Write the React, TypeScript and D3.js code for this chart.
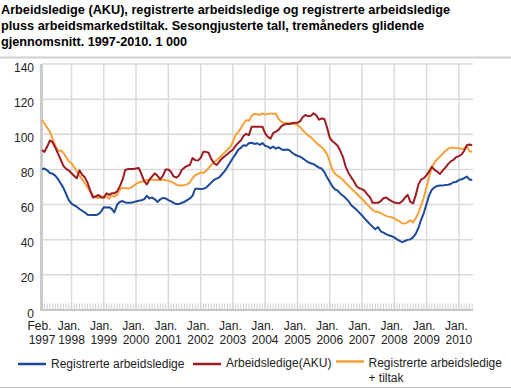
import React from "react";
import * as d3 from "d3";

// monthly values, Feb 1997 - Jun 2010 (1 000 persons)
const startMonth = new Date(1997, 1, 1);

const registrerte = [
  80, 80.5, 79.5, 78, 77.5, 76.5, 74.5, 72, 69.5, 66, 62.5,
  60.5, 59.5, 58.8, 57.5, 56.5, 55.5, 54.2, 54, 54, 54, 54.5, 56,
  58.5, 58.3, 58.5, 57.5, 55.5, 60, 61.5, 62, 61.2, 61, 61, 61.3,
  61.8, 62.2, 62.5, 63, 65, 63.5, 64, 63, 61.5, 63, 63.8, 63.5,
  62.5, 61.8, 61, 60.3, 60.3, 61, 61.5, 62.5, 63.5, 65, 69, 69,
  68.8, 69, 69.5, 71, 72.5, 74, 74.8, 75.5, 77.4, 79, 81.5, 84,
  86.5, 88.7, 91, 92.4, 93.8, 93.5, 94.9, 95.2, 94.5, 94.9, 94, 95,
  93.5, 93, 92, 93, 91.8, 92.6, 91.5, 91, 91.3, 91, 89.5, 88.5,
  87.7, 87.2, 86.3, 85.2, 84.2, 83.5, 83, 82, 81, 80.5, 78.5, 75.5,
  73, 70.3, 68.7, 67.9, 66.2, 65, 63.7, 62, 59.6, 58.4, 57, 55.4,
  53.8, 52, 50.5, 48.9, 47.4, 45.9, 47.2, 44.8, 44, 43.2, 42.5, 42,
  41.3, 40.2, 39.3, 38.6, 39.3, 39.9, 40.2, 41.3, 43.5, 46.8, 51.5, 55.3,
  60.5, 65.5, 68.4, 69.8, 70.6, 70.9, 70.8, 71.2, 71.3, 71.7, 72.7, 72.9,
  73.9, 74.4, 75, 75.9, 74.3, 74,
];

const aku = [
  91, 90, 93, 96.5, 95.5, 92.5, 89, 85.5, 82, 80.3, 79.5,
  77.8, 76.3, 75, 79.5, 77, 75.5, 72.5, 68, 64, 64.5, 65.5, 64,
  64, 66.4, 65.5, 66.4, 66.4, 67.5, 70.3, 74, 79.7, 80.2, 80.2, 80.2,
  80.5, 80.8, 77.5, 73.5, 71.5, 74, 76, 77.8, 76.3, 74.4, 76.5, 80,
  80, 78.5, 76, 75.3, 76.5, 79.7, 81, 82, 82.5, 86.5, 85.3, 85,
  86.5, 90, 90, 89.5, 86, 83.5, 82.5, 84.5, 86.3, 87.5, 88.8, 90.1,
  91.2, 93.5, 95, 96.5, 99, 100.3, 99.5, 104.3, 104.3, 104.3, 104.3, 104.3,
  100.5, 98.5, 97.5, 100.6, 101.5, 102.5, 104.5, 105.5, 105.9, 105.9, 106.3, 106.5,
  106.5, 107.5, 109.7, 111, 110.2, 110.5, 112, 110.8, 108.3, 109, 108.7, 104,
  98, 96, 94.9, 93.5, 90.5, 86.8, 81.5, 78, 75.5, 73.3, 70.4, 69.3,
  68.8, 67.8, 65.8, 64.2, 61, 61, 61, 62, 63.6, 64, 63, 62,
  61.2, 60.9, 60.7, 62, 64, 65.5, 61.5, 60.7, 65.5, 71.5, 74.3, 75,
  76.8, 79, 81.5, 79.7, 78.8, 77.4, 79.3, 81, 83, 84.6, 85.5, 87,
  87.6, 88.5, 90.5, 93.8, 94.2, 93.8,
];

const registrerteTiltak = [
  108.1, 106, 103.8, 101.5, 97.5, 93.5, 90.5, 90.8, 89.5, 87, 84.7,
  83.5, 81.2, 79, 76.5, 74.5, 72.1, 69.8, 67.5, 65.3, 64.3, 63.6, 65,
  63.8, 64.6, 63.3, 65.2, 64.5, 65.5, 68.5, 69.5, 69.5, 69.2, 69.5, 70.6,
  71.8, 72.6, 73, 73.3, 74, 74.4, 74.2, 74, 74.1, 73.8, 74.2, 73.9,
  73.5, 73, 72.5, 71.3, 70.8, 70.9, 71.1, 71.5, 72.5, 75, 76.8, 77.4,
  78.2, 78, 79, 80.8, 82.5, 84, 85.2, 86.7, 88.2, 89.7, 91.3, 92.8,
  95.5, 99.6, 101, 103.5, 106, 108, 107.7, 110.5, 111.7, 111.4, 111, 111.9,
  111.2, 111.6, 111.9, 111.6, 111.9, 108.7, 107.2, 106.3, 106.4, 106.3, 106.2, 105.9,
  105.3, 104, 102.3, 100.8, 99.4, 98.3, 96.8, 95.2, 93.8, 92.7, 91, 88.7,
  84.5, 79.6, 77.6, 76.3, 75.3, 74, 72.3, 70.7, 69.2, 67.7, 66.3, 64.6,
  63.2, 61.6, 60.1, 58.5, 56.9, 55.9, 55.9, 55.1, 54.3, 53.6, 53, 52.8,
  52.2, 51.2, 50.4, 49.2, 49.3, 50, 51, 49.8, 52.3, 55.2, 59.7, 64,
  70.2, 76.3, 81.3, 84, 85.8, 87.3, 88.9, 90.5, 91.7, 92.4, 92.4, 92,
  92, 91.8, 91.6, 93, 90.3, 90.1,
];

const yTicks = [0, 20, 40, 60, 80, 100, 120, 140];
const xTickMonths = ["Feb.", "Jan.", "Jan.", "Jan.", "Jan.", "Jan.", "Jan.", "Jan.", "Jan.", "Jan.", "Jan.", "Jan.", "Jan.", "Jan."];
const xTickYears = ["1997", "1998", "1999", "2000", "2001", "2002", "2003", "2004", "2005", "2006", "2007", "2008", "2009", "2010"];

const titleLines = [
  "Arbeidsledige (AKU), registrerte arbeidsledige og registrerte arbeidsledige",
  "pluss arbeidsmarkedstiltak. Sesongjusterte tall, tremåneders glidende",
  "gjennomsnitt. 1997-2010. 1 000",
];

const colors = { blue: "#1c4a9a", red: "#9c1c22", orange: "#f7a138" };
const font = "'Liberation Sans', Arial, sans-serif";

export default function App() {
  const width = 511;
  const height = 389;
  const plot = { left: 42, right: 473, top: 64, bottom: 310 };

  const months = registrerte.map((_, i) => d3.timeMonth.offset(startMonth, i));
  const x = d3
    .scaleTime()
    .domain([startMonth, months[months.length - 1]])
    .range([plot.left, plot.right - 0.8]);
  const y = d3.scaleLinear().domain([0, 140]).range([plot.bottom, plot.top]);

  const tickDates = xTickYears.map((yr, i) => (i === 0 ? startMonth : new Date(+yr, 0, 1)));

  const line = (vals: number[]) =>
    d3
      .line<number>()
      .x((_, i) => x(months[i]))
      .y((d) => y(d))(vals) || "";

  return (
    <svg
      width={width}
      height={height}
      style={{ position: "absolute", left: 0, top: 0, fontFamily: font }}
    >
      <rect width={width} height={height} fill="#fff" />
      {titleLines.map((t, i) => (
        <text key={t} x={1} y={14 + i * 16} fontSize={12.7} fontWeight="bold" fill="#000">
          {t}
        </text>
      ))}
      <line x1={0} x2={width} y1={57.5} y2={57.5} stroke="#cfcfcf" strokeWidth={2} />

      {/* grid */}
      {yTicks.slice(1).map((v) => (
        <line key={"h" + v} x1={plot.left} x2={plot.right} y1={y(v)} y2={y(v)} stroke="#dadada" strokeWidth={1.5} />
      ))}
      {tickDates.slice(1).map((d, i) => (
        <line key={"v" + i} x1={x(d)} x2={x(d)} y1={plot.top} y2={plot.bottom} stroke="#dadada" strokeWidth={1.5} />
      ))}

      {/* month ticks */}
      {months.map((d, i) => (
        <line key={"m" + i} x1={x(d)} x2={x(d)} y1={plot.bottom - 6.5} y2={plot.bottom} stroke="#cfcfcf" strokeWidth={1} />
      ))}
      <line x1={plot.left} x2={plot.right} y1={plot.bottom} y2={plot.bottom} stroke="#c8c8c8" strokeWidth={2} />
      <line x1={plot.left - 0.5} x2={plot.left - 0.5} y1={plot.top} y2={plot.bottom + 1} stroke="#cbcbcb" strokeWidth={3} />

      {/* y labels */}
      {yTicks.map((v) => (
        <text key={"yl" + v} x={34} y={y(v) + 7.5} textAnchor="end" fontSize={12} fill="#222">
          {v}
        </text>
      ))}

      {/* x labels */}
      {tickDates.map((d, i) => (
        <g key={"xl" + i} fontSize={12} fill="#222">
          <text x={x(d) - 2.5} y={330} textAnchor="middle">
            {xTickMonths[i]}
          </text>
          <text x={x(d)} y={344} textAnchor="middle">
            {xTickYears[i]}
          </text>
        </g>
      ))}

      {/* series */}
      <path d={line(registrerte)} fill="none" stroke={colors.blue} strokeWidth={2} strokeLinejoin="round" />
      <path d={line(registrerteTiltak)} fill="none" stroke={colors.orange} strokeWidth={2} strokeLinejoin="round" />
      <path d={line(aku)} fill="none" stroke={colors.red} strokeWidth={2} strokeLinejoin="round" />

      {/* legend */}
      <g fontSize={12} fill="#222">
        <line x1={18} x2={46} y1={364} y2={364} stroke={colors.blue} strokeWidth={2.5} />
        <text x={51} y={368}>Registrerte arbeidsledige</text>
        <line x1={193} x2={221} y1={364} y2={364} stroke={colors.red} strokeWidth={2.5} />
        <text x={226} y={366.5}>Arbeidsledige(AKU)</text>
        <line x1={336} x2={364} y1={361.5} y2={361.5} stroke={colors.orange} strokeWidth={2.5} />
        <text x={368.5} y={366.5}>Registrerte arbeidsledige</text>
        <text x={368.5} y={381.5}>+ tiltak</text>
      </g>
      <line x1={0} x2={width} y1={387.5} y2={387.5} stroke="#bdbdbd" strokeWidth={1} />
    </svg>
  );
}
